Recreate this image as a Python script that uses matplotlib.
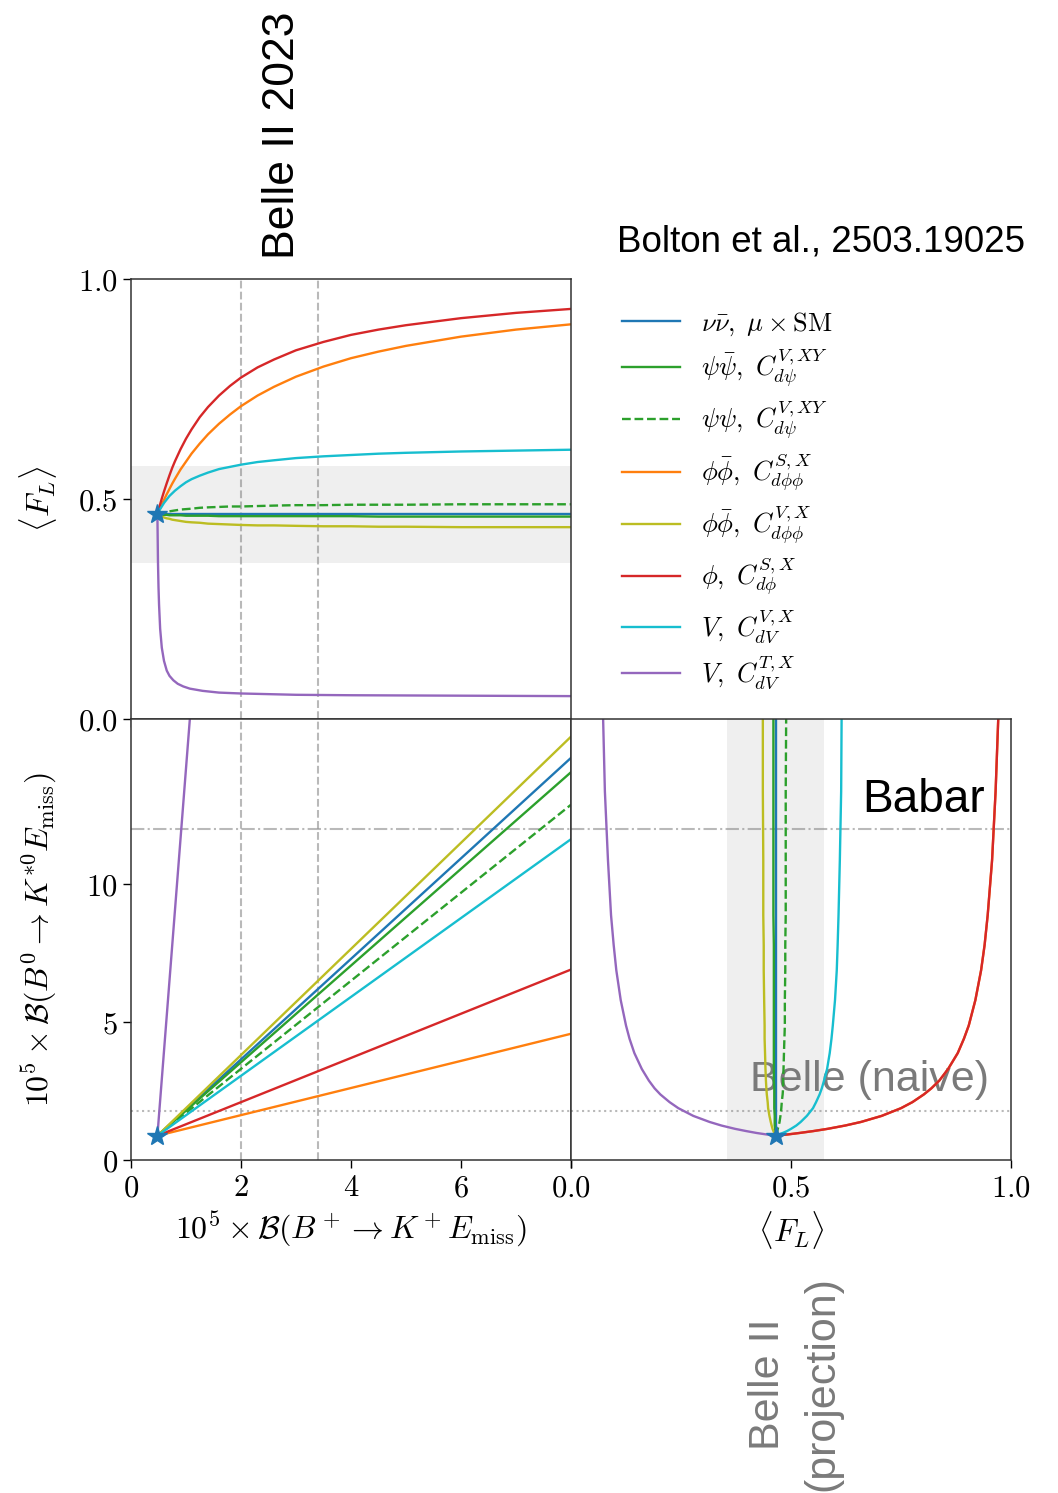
import matplotlib
matplotlib.use('Agg')
import matplotlib.pyplot as plt

plt.rcParams['mathtext.fontset'] = 'cm'
plt.rcParams['font.family'] = ['Liberation Sans', 'DejaVu Sans']

# SM point and experimental references (units of 1e-5 for the branching ratios)
SM_BP = 0.48
SM_B0 = 0.88
SM_FL = 0.465
BELLE2_BP = [2.0, 3.4]
BABAR_B0 = 12.0
BELLE_B0 = 1.78
FL_BAND = [0.355, 0.575]

labels = [r'$\nu\bar{\nu},\ \mu\times\mathrm{SM}$',
          r'$\psi\bar{\psi},\ C^{V,XY}_{d\psi}$',
          r'$\psi\psi,\ C^{V,XY}_{d\psi}$',
          r'$\phi\bar{\phi},\ C^{S,X}_{d\phi\phi}$',
          r'$\phi\bar{\phi},\ C^{V,X}_{d\phi\phi}$',
          r'$\phi,\ C^{S,X}_{d\phi}$',
          r'$V,\ C^{V,X}_{dV}$',
          r'$V,\ C^{T,X}_{dV}$']
colors = ['#1f77b4', '#2ca02c', '#2ca02c', '#ff7f0e', '#bcbd22', '#d62728', '#17becf', '#9467bd']
styles = ['-', '-', '--', '-', '-', '-', '-', '-']

# top panel: <F_L> against B(B+ -> K+ E_miss)
bp_grid = [0.48, 0.5, 0.53, 0.56, 0.6, 0.65, 0.7, 0.75, 0.8, 0.9, 1.0, 1.1, 1.25, 1.4,
           1.6, 1.8, 2, 2.3, 2.6, 3, 3.5, 4, 4.5, 5, 6, 7, 8]
bp_grid_t = [0.48, 0.49, 0.50, 0.51, 0.53, 0.56, 0.6, 0.65, 0.7, 0.77, 0.85, 0.95,
             1.07, 1.3, 1.6, 2, 3, 4, 6, 8]
fl_nu = [0.465] * 27
fl_psibar = [0.465, 0.465, 0.464, 0.464, 0.464, 0.464, 0.463, 0.463, 0.463, 0.463,
             0.462, 0.462, 0.462, 0.462, 0.461, 0.461, 0.461, 0.461, 0.461, 0.461,
             0.461, 0.461, 0.460, 0.460, 0.460, 0.460, 0.460]
fl_psipsi = [0.465, 0.466, 0.467, 0.468, 0.469, 0.471, 0.472, 0.473, 0.474, 0.476,
             0.477, 0.478, 0.480, 0.481, 0.482, 0.483, 0.483, 0.484, 0.485, 0.486,
             0.486, 0.487, 0.487, 0.487, 0.488, 0.488, 0.488]
fl_phiS = [0.465, 0.471, 0.479, 0.488, 0.498, 0.511, 0.523, 0.535, 0.546, 0.567,
           0.585, 0.603, 0.626, 0.647, 0.671, 0.692, 0.711, 0.735, 0.755, 0.778,
           0.801, 0.820, 0.835, 0.848, 0.869, 0.885, 0.897]
fl_phiV = [0.465, 0.464, 0.462, 0.460, 0.458, 0.456, 0.455, 0.453, 0.452, 0.450,
           0.448, 0.447, 0.446, 0.444, 0.443, 0.442, 0.441, 0.440, 0.440, 0.439,
           0.438, 0.438, 0.437, 0.437, 0.436, 0.436, 0.436]
fl_phi = [0.465, 0.474, 0.488, 0.501, 0.517, 0.536, 0.554, 0.571, 0.586, 0.613,
          0.637, 0.658, 0.686, 0.709, 0.735, 0.757, 0.776, 0.799, 0.817, 0.838,
          0.857, 0.873, 0.885, 0.895, 0.911, 0.923, 0.932]
fl_VV = [0.465, 0.470, 0.477, 0.483, 0.491, 0.499, 0.507, 0.513, 0.519, 0.529,
         0.538, 0.545, 0.553, 0.560, 0.568, 0.573, 0.578, 0.584, 0.588, 0.593,
         0.597, 0.600, 0.603, 0.605, 0.608, 0.610, 0.612]
fl_VT = [0.465, 0.36, 0.30, 0.26, 0.205, 0.162, 0.132, 0.11, 0.098, 0.088, 0.080,
         0.074, 0.069, 0.064, 0.060, 0.058, 0.055, 0.054, 0.053, 0.052]
top_x = [bp_grid] * 7 + [bp_grid_t]
top_y = [fl_nu, fl_psibar, fl_psipsi, fl_phiS, fl_phiV, fl_phi, fl_VV, fl_VT]

# bottom left: straight lines from the SM point
bp_end = [8, 8, 8, 8, 8, 8, 8, 1.07]
b0_end = [14.59, 14.07, 12.89, 4.58, 15.36, 6.91, 11.64, 16.0]

# bottom right: <F_L> against B(B0 -> K*0 E_miss)
b0_grid = [0.88, 0.93, 0.98, 1.05, 1.13, 1.25, 1.38, 1.6, 1.88, 2.1, 2.38, 2.6, 2.88,
           3.3, 3.88, 4.4, 4.88, 5.8, 6.88, 7.8, 8.88, 10.88, 13.38, 16.0]
flr_nu = [0.465] * 24
flr_psibar = [0.465, 0.465, 0.464, 0.464, 0.464, 0.463, 0.463, 0.463, 0.462, 0.462,
              0.462, 0.462, 0.461, 0.461, 0.461, 0.461, 0.461, 0.461, 0.461, 0.461,
              0.460, 0.460, 0.460, 0.460]
flr_psipsi = [0.465, 0.466, 0.467, 0.469, 0.470, 0.472, 0.474, 0.476, 0.478, 0.479,
              0.481, 0.482, 0.482, 0.483, 0.484, 0.485, 0.486, 0.486, 0.487, 0.487,
              0.488, 0.488, 0.488, 0.489]
flr_phiS = [0.465, 0.494, 0.519, 0.551, 0.583, 0.623, 0.659, 0.706, 0.750, 0.776,
            0.802, 0.819, 0.837, 0.857, 0.879, 0.893, 0.904, 0.919, 0.932, 0.940,
            0.947, 0.957, 0.965, 0.971]
flr_phiV = [0.465, 0.463, 0.462, 0.460, 0.458, 0.456, 0.454, 0.451, 0.448, 0.447,
            0.445, 0.444, 0.443, 0.442, 0.441, 0.440, 0.440, 0.439, 0.438, 0.438,
            0.437, 0.437, 0.436, 0.436]
flr_phi = [0.465, 0.494, 0.519, 0.551, 0.583, 0.623, 0.659, 0.706, 0.750, 0.776,
           0.802, 0.819, 0.837, 0.857, 0.879, 0.893, 0.904, 0.919, 0.932, 0.940,
           0.947, 0.957, 0.965, 0.971]
flr_VV = [0.465, 0.473, 0.481, 0.491, 0.500, 0.512, 0.522, 0.536, 0.550, 0.557,
          0.565, 0.570, 0.575, 0.582, 0.588, 0.592, 0.595, 0.600, 0.604, 0.606,
          0.608, 0.611, 0.614, 0.615]
flr_VT = [0.465, 0.443, 0.422, 0.398, 0.373, 0.342, 0.315, 0.278, 0.244, 0.224,
          0.203, 0.190, 0.177, 0.161, 0.144, 0.133, 0.125, 0.113, 0.103, 0.097,
          0.091, 0.084, 0.077, 0.073]
right_x = [flr_nu, flr_psibar, flr_psipsi, flr_phiS, flr_phiV, flr_phi, flr_VV, flr_VT]

W, H = 1058, 1493
fig = plt.figure(figsize=(W / 100, H / 100), dpi=100)


def box(x0, y0, x1, y1):
    return [x0 / W, 1 - y1 / H, (x1 - x0) / W, (y1 - y0) / H]


ax_top = fig.add_axes(box(131, 279, 571, 719))
ax_bl = fig.add_axes(box(131, 719, 571, 1160))
ax_br = fig.add_axes(box(571, 719, 1011, 1160))

ref = dict(color='gray', alpha=0.55, lw=1.5, zorder=1)
lw = 1.7
star = dict(marker='*', ms=15, color='#1f77b4', zorder=6, ls='none')

# top
ax_top.axhspan(FL_BAND[0], FL_BAND[1], color='#efefef', lw=0, zorder=0)
for x in BELLE2_BP:
    ax_top.axvline(x, ls='--', **ref)
handles = []
for xs, ys, c, s, lab in zip(top_x, top_y, colors, styles, labels):
    h, = ax_top.plot(xs, ys, color=c, ls=s, lw=lw, label=lab)
    handles.append(h)
ax_top.plot([SM_BP], [SM_FL], **star)
ax_top.set_xlim(0, 8)
ax_top.set_ylim(0, 1)
ax_top.set_xticks([0, 2, 4, 6, 8])
ax_top.tick_params(axis='x', length=0, labelbottom=False)
ax_top.set_yticks([0, 0.5, 1.0], ['$0.0$', '$0.5$', '$1.0$'])
ax_top.set_ylabel(r'$\langle F_L\rangle$', fontsize=23)

# bottom left
for x in BELLE2_BP:
    ax_bl.axvline(x, ls='--', **ref)
ax_bl.axhline(BABAR_B0, ls='-.', **ref)
ax_bl.axhline(BELLE_B0, ls=':', **ref)
for xe, ye, c, s in zip(bp_end, b0_end, colors, styles):
    ax_bl.plot([SM_BP, xe], [SM_B0, ye], color=c, ls=s, lw=lw)
ax_bl.plot([SM_BP], [SM_B0], **star)
ax_bl.set_xlim(0, 8)
ax_bl.set_ylim(0, 16)
ax_bl.set_xticks([0, 2, 4, 6, 8], ['$0$', '$2$', '$4$', '$6$', ''])
ax_bl.set_yticks([0, 5, 10], ['$0$', '$5$', '$10$'])
ax_bl.set_xlabel(r'$10^5\times\mathcal{B}(B^+\to K^+E_{\rm miss})$', fontsize=23)
ax_bl.set_ylabel(r'$10^5\times\mathcal{B}(B^0\to K^{*0}E_{\rm miss})$', fontsize=23)

# bottom right
ax_br.axvspan(FL_BAND[0], FL_BAND[1], color='#efefef', lw=0, zorder=0)
ax_br.axhline(BABAR_B0, ls='-.', **ref)
ax_br.axhline(BELLE_B0, ls=':', **ref)
for xs, c, s in zip(right_x, colors, styles):
    ax_br.plot(xs, b0_grid, color=c, ls=s, lw=lw)
ax_br.plot([SM_FL], [SM_B0], **star)
ax_br.set_xlim(0, 1)
ax_br.set_ylim(0, 16)
ax_br.set_xticks([0, 0.5, 1.0], ['$0.0$', '$0.5$', '$1.0$'])
ax_br.tick_params(axis='y', left=False, labelleft=False)
ax_br.set_xlabel(r'$\langle F_L\rangle$', fontsize=23)

for ax in (ax_top, ax_bl, ax_br):
    ax.tick_params(labelsize=22, length=6, width=1, direction='out')
    for sp in ax.spines.values():
        sp.set_color('#333333')
        sp.set_linewidth(1.1)
ax_top.yaxis.set_label_coords(-0.163, 0.5)
ax_bl.yaxis.set_label_coords(-0.163, 0.5)
ax_bl.xaxis.set_label_coords(0.5, -0.112)
ax_br.xaxis.set_label_coords(0.5, -0.112)

fig.legend(handles, labels, loc='upper left', bbox_to_anchor=(622 / W, 1 - 310 / H),
           frameon=False, fontsize=19, handlelength=2.2, handletextpad=0.8,
           labelspacing=0.35, borderpad=0, borderaxespad=0)

# annotations
fig.text(283 / W, 1 - 135 / H, 'Belle II 2023', rotation=90, ha='center', va='center',
         fontsize=32)
fig.text(617 / W, 1 - 242 / H, 'Bolton et al., 2503.19025', ha='left', va='center',
         fontsize=26.5)
fig.text(985 / W, 1 - 800 / H, 'Babar', ha='right', va='center', fontsize=33)
ax_br.text(870 / W, 1 - 1080 / H, 'Belle (naive)', transform=fig.transFigure,
           ha='center', va='center', fontsize=31, color='#7a7a7a', zorder=1.5)
fig.text(795 / W, 1 - 1384 / H, 'Belle II\n(projection)', rotation=90, ha='center',
         va='center', multialignment='center', fontsize=31, color='#7a7a7a',
         linespacing=1.45)

fig.savefig('out.png', dpi=100)
